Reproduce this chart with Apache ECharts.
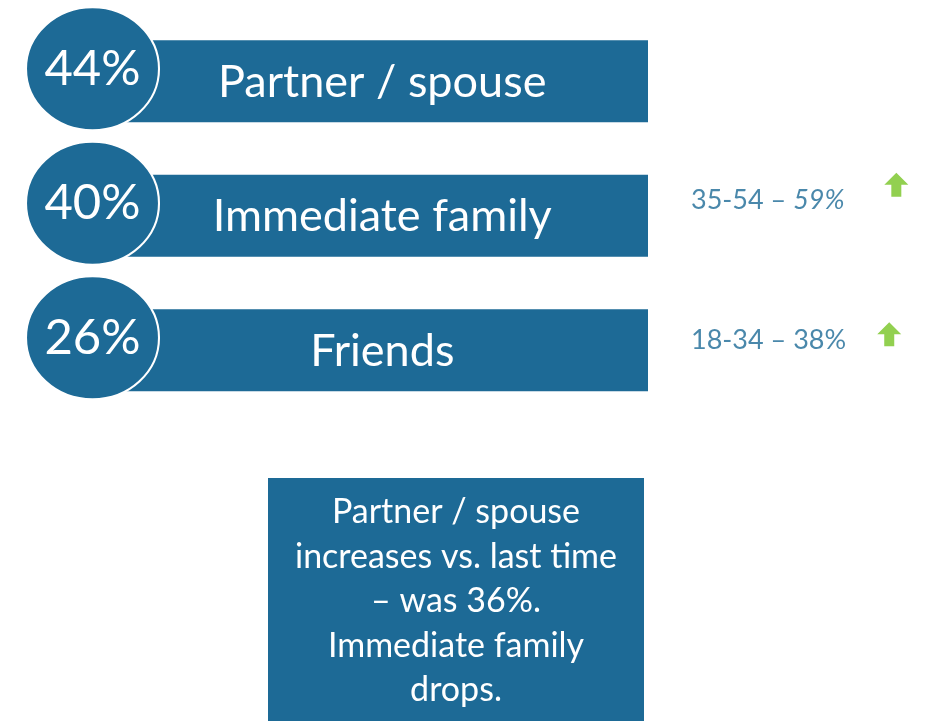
<!DOCTYPE html>
<html>
<head>
<meta charset="utf-8">
<script src="https://cdn.jsdelivr.net/npm/echarts@6/dist/echarts.min.js"></script>
<style>
  html, body { margin: 0; padding: 0; background: #fff; }
  #main { width: 927px; height: 721px; }
</style>
</head>
<body>
<div id="main"></div>
<script>
// who people talk to -- share of respondents
var categories = ['Partner / spouse', 'Immediate family', 'Friends'];
var shares = [44, 40, 26];
var barFull = [100, 100, 100];

// age group call-outs (null = no call-out)
var noteAges = [null, '35-54', '18-34'];
var noteValues = [null, 59, 38];
var noteItalic = [false, true, false];
var arrowX = [null, 87, 84];

var summaryLines = [
  'Partner / spouse',
  'increases vs. last time',
  '\u2013 was 36%.',
  'Immediate family',
  'drops.'
];

var BLUE = '#1d6a96';
var GREEN = '#92d050';
var FONT = 'Lato, "Open Sans", sans-serif';

// small per-row nudges (style only)
var noteShift = [0, -15, -10];
var arrowShift = [0, -31, -16];

var chart = echarts.init(document.getElementById('main'));

var circleData = categories.map(function (c, i) {
  return { value: [0, c], share: shares[i] };
});

var noteData = [];
var arrowData = [];
categories.forEach(function (c, i) {
  if (noteAges[i] == null) return;
  noteData.push({
    value: [0, c],
    label: { offset: [0, noteShift[i]] },
    age: noteAges[i],
    pct: noteValues[i],
    italic: noteItalic[i]
  });
  arrowData.push({
    value: [arrowX[i], c],
    symbolOffset: [0, arrowShift[i]]
  });
});

var option = {
  backgroundColor: '#fff',
  animation: false,
  grid: [
    { left: 92.5, right: 279, top: 14, height: 403.5 },
    { left: 691, right: 0, top: 14, height: 403.5 }
  ],
  xAxis: [
    { gridIndex: 0, type: 'value', min: 0, max: 100, show: false },
    { gridIndex: 1, type: 'value', min: 0, max: 100, show: false }
  ],
  yAxis: [
    { gridIndex: 0, type: 'category', data: categories, inverse: true, show: false },
    { gridIndex: 1, type: 'category', data: categories, inverse: true, show: false }
  ],
  series: [
    {
      type: 'bar',
      xAxisIndex: 0,
      yAxisIndex: 0,
      data: barFull,
      barWidth: 82,
      itemStyle: { color: BLUE },
      label: {
        show: true,
        position: 'inside',
        offset: [12, 1],
        formatter: function (p) { return categories[p.dataIndex]; },
        color: '#fff',
        fontFamily: FONT,
        fontSize: 45
      },
      z: 2
    },
    {
      type: 'scatter',
      xAxisIndex: 0,
      yAxisIndex: 0,
      data: circleData,
      symbol: 'circle',
      symbolSize: [133, 123],
      symbolOffset: [0, -12.5],
      itemStyle: { color: BLUE, borderColor: '#fff', borderWidth: 2, opacity: 1 },
      label: {
        show: true,
        position: 'inside',
        formatter: function (p) { return p.data.share + '%'; },
        color: '#fff',
        fontFamily: FONT,
        fontSize: 49
      },
      z: 3
    },
    {
      type: 'scatter',
      xAxisIndex: 1,
      yAxisIndex: 1,
      data: noteData,
      symbolSize: 0,
      label: {
        show: true,
        position: 'right',
        distance: 0,
        formatter: function (p) {
          var pct = p.data.pct + '%';
          return '{a|' + p.data.age + ' \u2013 }' + (p.data.italic ? '{i|' + pct + '}' : '{a|' + pct + '}');
        },
        rich: {
          a: { color: BLUE, fontFamily: FONT, fontSize: 27 },
          i: { color: BLUE, fontFamily: FONT, fontSize: 27, fontStyle: 'italic' }
        }
      }
    },
    {
      type: 'scatter',
      xAxisIndex: 1,
      yAxisIndex: 1,
      data: arrowData,
      symbol: 'path://M12 0 L24 12 L17 12 L17 24 L7 24 L7 12 L0 12 Z',
      symbolSize: [24, 24],
      itemStyle: { color: GREEN, opacity: 1 }
    }
  ],
  graphic: [
    {
      type: 'group',
      children: [
        {
          type: 'rect',
          shape: { x: 268, y: 478, width: 376, height: 260 },
          style: { fill: BLUE }
        },
        {
          type: 'text',
          x: 456,
          y: 490,
          style: {
            text: summaryLines.join('\n'),
            fill: '#fff',
            font: '34px ' + FONT,
            lineHeight: 44.5,
            align: 'center',
            verticalAlign: 'top'
          }
        }
      ]
    }
  ]
};

chart.setOption(option);
</script>
</body>
</html>
